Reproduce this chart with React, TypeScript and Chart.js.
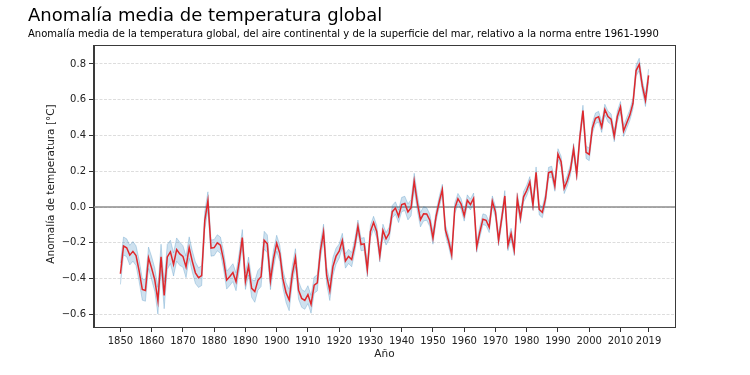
import React, { useEffect, useRef } from "react";
import { Chart, registerables } from "chart.js";
Chart.register(...registerables);

const firstYear = 1850;
const anomaly = [
  -0.373, -0.218, -0.228, -0.269, -0.248, -0.272, -0.358, -0.461, -0.467, -0.284,
  -0.343, -0.407, -0.524, -0.278, -0.494, -0.279, -0.251, -0.321, -0.238, -0.262,
  -0.276, -0.335, -0.227, -0.304, -0.368, -0.395, -0.384, -0.075, 0.035, -0.23,
  -0.227, -0.2, -0.213, -0.296, -0.409, -0.389, -0.367, -0.418, -0.307, -0.171,
  -0.416, -0.33, -0.455, -0.473, -0.41, -0.39, -0.186, -0.206, -0.412, -0.289,
  -0.203, -0.259, -0.402, -0.479, -0.52, -0.377, -0.283, -0.465, -0.511, -0.522,
  -0.49, -0.544, -0.437, -0.424, -0.244, -0.141, -0.383, -0.468, -0.333, -0.275,
  -0.247, -0.187, -0.302, -0.276, -0.294, -0.215, -0.108, -0.21, -0.206, -0.35,
  -0.137, -0.087, -0.137, -0.273, -0.131, -0.178, -0.147, -0.026, -0.006, -0.052,
  0.014, 0.02, -0.027, -0.004, 0.144, 0.025, -0.071, -0.038, -0.039, -0.074,
  -0.173, -0.052, 0.028, 0.097, -0.129, -0.19, -0.267, -0.007, 0.046, 0.017,
  -0.049, 0.038, 0.014, 0.048, -0.223, -0.14, -0.068, -0.074, -0.113, 0.032,
  -0.027, -0.186, -0.065, 0.062, -0.214, -0.149, -0.241, 0.047, -0.062, 0.057,
  0.092, 0.14, 0.011, 0.194, -0.014, -0.03, 0.045, 0.192, 0.198, 0.118,
  0.296, 0.254, 0.105, 0.148, 0.208, 0.325, 0.183, 0.39, 0.539, 0.306,
  0.294, 0.441, 0.496, 0.505, 0.447, 0.545, 0.506, 0.491, 0.395, 0.506,
  0.56, 0.425, 0.47, 0.514, 0.579, 0.763, 0.797, 0.677, 0.597, 0.736,
];
const uncertainty = [
  0.06, 0.05, 0.05, 0.055, 0.055, 0.055, 0.06, 0.06, 0.06, 0.06,
  0.065, 0.065, 0.075, 0.07, 0.075, 0.07, 0.065, 0.065, 0.065, 0.065,
  0.06, 0.06, 0.06, 0.06, 0.06, 0.055, 0.055, 0.05, 0.05, 0.045,
  0.045, 0.045, 0.045, 0.05, 0.05, 0.05, 0.05, 0.05, 0.05, 0.045,
  0.045, 0.05, 0.05, 0.06, 0.055, 0.055, 0.05, 0.05, 0.05, 0.05,
  0.045, 0.045, 0.05, 0.055, 0.06, 0.05, 0.05, 0.05, 0.05, 0.05,
  0.05, 0.05, 0.045, 0.045, 0.045, 0.045, 0.05, 0.055, 0.05, 0.045,
  0.04, 0.04, 0.04, 0.04, 0.04, 0.035, 0.035, 0.035, 0.035, 0.04,
  0.035, 0.035, 0.035, 0.035, 0.035, 0.035, 0.035, 0.035, 0.035, 0.035,
  0.04, 0.04, 0.045, 0.045, 0.045, 0.045, 0.04, 0.04, 0.035, 0.035,
  0.035, 0.03, 0.03, 0.03, 0.03, 0.03, 0.03, 0.03, 0.03, 0.03,
  0.03, 0.03, 0.03, 0.03, 0.03, 0.03, 0.03, 0.03, 0.03, 0.03,
  0.03, 0.03, 0.03, 0.03, 0.03, 0.03, 0.03, 0.03, 0.03, 0.03,
  0.03, 0.03, 0.03, 0.03, 0.03, 0.03, 0.03, 0.03, 0.03, 0.03,
  0.03, 0.03, 0.03, 0.03, 0.03, 0.03, 0.03, 0.03, 0.03, 0.035,
  0.035, 0.03, 0.03, 0.03, 0.03, 0.03, 0.03, 0.03, 0.03, 0.03,
  0.03, 0.03, 0.03, 0.03, 0.03, 0.03, 0.035, 0.03, 0.035, 0.035,
];
const xTicks = [1850, 1860, 1870, 1880, 1890, 1900, 1910, 1920, 1930, 1940, 1950, 1960, 1970, 1980, 1990, 2000, 2010, 2019];
const yTicks = [-0.6, -0.4, -0.2, 0.0, 0.2, 0.4, 0.6, 0.8];

const TITLE = "Anomalía media de temperatura global";
const SUBTITLE = "Anomalía media de la temperatura global, del aire continental y de la superficie del mar, relativo a la norma entre 1961-1990";
const X_LABEL = "Año";
const Y_LABEL = "Anomalía de temperatura [°C]";

const FONT = "'DejaVu Sans', 'Liberation Sans', sans-serif";

export default function App() {
  const ref = useRef<HTMLCanvasElement | null>(null);
  useEffect(() => {
    if (!ref.current) return;
    const years = anomaly.map((_, i) => firstYear + i);
    const mean = anomaly.map((v, i) => ({ x: years[i], y: v }));
    const lower = anomaly.map((v, i) => ({ x: years[i], y: v - uncertainty[i] }));
    const upper = anomaly.map((v, i) => ({ x: years[i], y: v + uncertainty[i] }));

    const decor = {
      id: "decor",
      beforeDatasetsDraw(chart: any) {
        const { ctx, chartArea, scales } = chart;
        const y0 = scales.y.getPixelForValue(0);
        ctx.save();
        ctx.strokeStyle = "#8c8c8c";
        ctx.lineWidth = 1.5;
        ctx.beginPath();
        ctx.moveTo(chartArea.left, y0);
        ctx.lineTo(chartArea.right, y0);
        ctx.stroke();
        ctx.restore();
      },
      afterDraw(chart: any) {
        const { ctx, chartArea } = chart;
        ctx.save();
        ctx.strokeStyle = "#3a3a3a";
        ctx.lineWidth = 1;
        ctx.strokeRect(
          Math.round(chartArea.left) - 0.5,
          Math.round(chartArea.top) + 0.5,
          Math.round(chartArea.right - chartArea.left) + 1,
          Math.round(chartArea.bottom - chartArea.top)
        );
        ctx.fillStyle = "#000";
        ctx.textAlign = "left";
        ctx.textBaseline = "alphabetic";
        ctx.font = `18px ${FONT}`;
        ctx.fillText(TITLE, 28, 21);
        ctx.font = `10px ${FONT}`;
        ctx.fillText(SUBTITLE, 28, 37);
        ctx.fillStyle = "#222";
        ctx.textAlign = "center";
        ctx.textBaseline = "middle";
        ctx.font = `10.5px ${FONT}`;
        ctx.fillText(X_LABEL, (chartArea.left + chartArea.right) / 2, 354);
        ctx.translate(51, 184);
        ctx.rotate(-Math.PI / 2);
        ctx.fillText(Y_LABEL, 0, 0);
        ctx.restore();
      },
    };

    const chart = new Chart(ref.current, {
      type: "line",
      data: {
        datasets: [
          {
            data: lower,
            order: 2,
            borderColor: "rgba(31,119,180,0.25)",
            borderWidth: 1,
            pointRadius: 0,
            fill: false,
            tension: 0,
          },
          {
            data: upper,
            order: 1,
            borderColor: "rgba(31,119,180,0.25)",
            backgroundColor: "rgba(31,119,180,0.22)",
            borderWidth: 1,
            pointRadius: 0,
            fill: "-1",
            tension: 0,
          },
          {
            data: mean,
            order: 0,
            borderColor: "#e0282c",
            borderWidth: 1.5,
            pointRadius: 0,
            fill: false,
            tension: 0,
          },
        ],
      },
      options: {
        animation: false,
        responsive: false,
        maintainAspectRatio: false,
        events: [],
        layout: { padding: { top: 45, right: 75, left: 0, bottom: 0 } },
        plugins: {
          legend: { display: false },
          tooltip: { enabled: false },
          title: { display: false },
        },
        scales: {
          x: {
            type: "linear",
            min: 1841.55,
            max: 2027.45,
            afterBuildTicks: (s: any) => {
              s.ticks = xTicks.map((v) => ({ value: v }));
            },
            afterFit: (s: any) => {
              s.height = 48;
            },
            ticks: {
              autoSkip: false,
              maxRotation: 0,
              minRotation: 0,
              padding: 3,
              color: "#222",
              font: { family: FONT, size: 10 },
              callback: (v: any) => String(v),
            },
            grid: {
              display: true,
              drawOnChartArea: false,
              drawTicks: true,
              tickLength: 5,
              tickColor: "#333",
              tickWidth: 1,
            },
            border: { display: true, color: "#3a3a3a", width: 1 },
          },
          y: {
            type: "linear",
            min: -0.671,
            max: 0.906,
            afterBuildTicks: (s: any) => {
              s.ticks = yTicks.map((v) => ({ value: v }));
            },
            afterFit: (s: any) => {
              s.width = 94;
            },
            ticks: {
              padding: 3,
              color: "#222",
              font: { family: FONT, size: 10 },
              callback: (v: any) => {
                const n = Number(v);
                const s = Math.abs(n).toFixed(1);
                return n < -1e-9 ? "\u2212" + s : s;
              },
            },
            grid: {
              display: true,
              drawOnChartArea: true,
              drawTicks: true,
              color: "#d4d4d4",
              lineWidth: 0.8,
              tickLength: 5,
              tickColor: "#333",
              tickWidth: 1,
              tickBorderDash: [],
            },
            border: { display: true, color: "#3a3a3a", width: 1, dash: [3, 1.5] },
          },
        },
      },
      plugins: [decor],
    });
    return () => chart.destroy();
  }, []);

  return (
    <div style={{ position: "absolute", left: 0, top: 0, width: 750, height: 375, background: "#fff" }}>
      <canvas ref={ref} width={750} height={375} style={{ width: 750, height: 375, display: "block" }} />
    </div>
  );
}
